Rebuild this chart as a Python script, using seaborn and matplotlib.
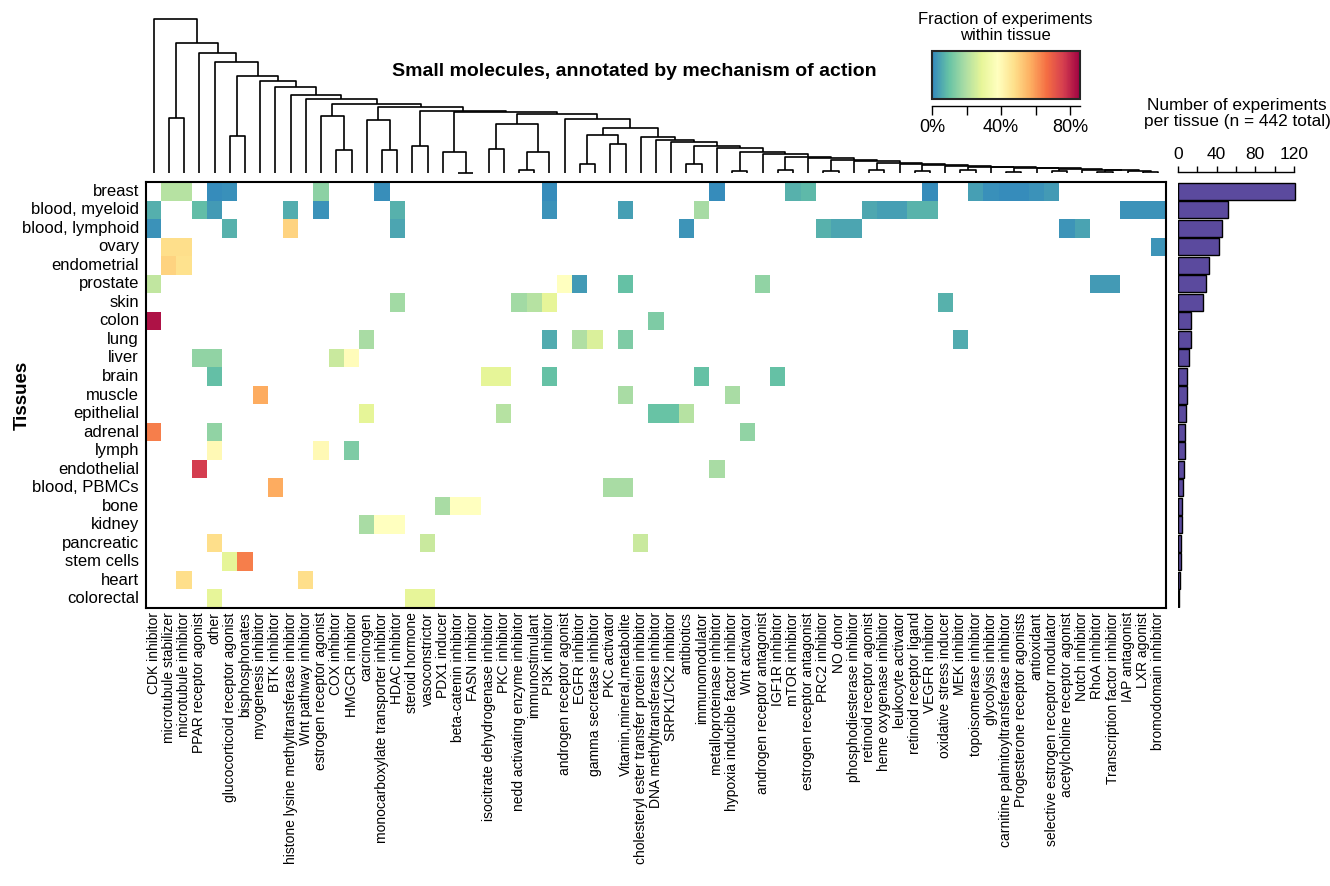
import numpy as np
import pandas as pd
import seaborn as sns
import matplotlib.pyplot as plt
from matplotlib.colors import LinearSegmentedColormap

# ======================= 1. Data ===========================
tissues = ["breast", "blood, myeloid", "blood, lymphoid", "ovary", "endometrial",
           "prostate", "skin", "colon", "lung", "liver", "brain", "muscle",
           "epithelial", "adrenal", "lymph", "endothelial", "blood, PBMCs", "bone",
           "kidney", "pancreatic", "stem cells", "heart", "colorectal"]

mechanisms = [
    "CDK inhibitor", "microtubule stabilizer", "microtubule inhibitor",
    "PPAR receptor agonist", "other", "glucocorticoid receptor agonist",
    "bisphosphonates", "myogenesis inhibitor", "BTK inhibitor",
    "histone lysine methyltransferase inhibitor", "Wnt pathway inhibitor",
    "estrogen receptor agonist", "COX inhibitor", "HMGCR inhibitor", "carcinogen",
    "monocarboxylate transporter inhibitor", "HDAC inhibitor", "steroid hormone",
    "vasoconstrictor", "PDX1 inducer", "beta-catenin inhibitor", "FASN inhibitor",
    "isocitrate dehydrogenase inhibitor", "PKC inhibitor",
    "nedd activating enzyme inhibitor", "immunostimulant", "PI3K inhibitor",
    "androgen receptor agonist", "EGFR inhibitor", "gamma secretase inhibitor",
    "PKC activator", "Vitamin,mineral,metabolite",
    "cholesteryl ester transfer protein inhibitor", "DNA methyltransferase inhibitor",
    "SRPK1/CK2 inhibitor", "antibiotics", "immunomodulator",
    "metalloproteinase inhibitor", "hypoxia inducible factor inhibitor",
    "Wnt activator", "androgen receptor antagonist", "IGF1R inhibitor",
    "mTOR inhibitor", "estrogen receptor antagonist", "PRC2 inhibitor", "NO donor",
    "phosphodiesterase inhibitor", "retinoid receptor agonist",
    "heme oxygenase inhibitor", "leukocyte activator", "retinoid receptor ligand",
    "VEGFR inhibitor", "oxidative stress inducer", "MEK inhibitor",
    "topoisomerase inhibitor", "glycolysis inhibitor",
    "carnitine palmitoyltransferase inhibitor", "Progesterone receptor agonists",
    "antioxidant", "selective estrogen receptor modulator",
    "acetylcholine receptor agonist", "Notch inhibitor", "RhoA inhibitor",
    "Transcription factor inhibitor", "IAP antagonist", "LXR agonist",
    "bromodomain inhibitor"]

n_per_tissue = [121, 52, 45, 42, 32, 29, 26, 13, 13, 11, 9, 9, 8, 7, 7, 6, 5, 4, 4, 3, 3, 2, 1]

# non-zero fractions per tissue, {mechanism index: fraction}
breast = {1: 0.21, 2: 0.21, 4: 0.008, 5: 0.016, 11: 0.15, 15: 0.012, 26: 0.008,
          37: 0.008, 42: 0.068, 43: 0.083, 51: 0.008, 54: 0.038, 55: 0.015,
          56: 0.008, 57: 0.008, 58: 0.018, 59: 0.031}
blood_myeloid = {0: 0.065, 3: 0.09, 4: 0.033, 9: 0.062, 11: 0.018, 16: 0.068,
                 26: 0.018, 31: 0.037, 36: 0.186, 47: 0.053, 48: 0.037, 49: 0.037,
                 50: 0.073, 51: 0.073, 64: 0.018, 65: 0.018, 66: 0.018}
blood_lymphoid = {0: 0.02, 5: 0.068, 9: 0.50, 16: 0.05, 35: 0.022, 44: 0.067,
                  45: 0.05, 46: 0.05, 60: 0.022, 61: 0.044}
ovary = {1: 0.476, 2: 0.476, 66: 0.022}
endometrial = {1: 0.50, 2: 0.47}
prostate = {0: 0.227, 27: 0.38, 28: 0.032, 31: 0.095, 40: 0.156, 62: 0.033, 63: 0.033}
skin = {16: 0.18, 24: 0.18, 25: 0.21, 26: 0.29, 52: 0.068}
colon = {0: 0.83, 33: 0.13}
lung = {14: 0.19, 26: 0.058, 28: 0.20, 29: 0.265, 31: 0.13, 53: 0.06}
liver = {3: 0.155, 4: 0.155, 12: 0.24, 13: 0.39}
brain = {4: 0.093, 22: 0.286, 23: 0.286, 26: 0.095, 36: 0.095, 41: 0.095}
muscle = {7: 0.575, 31: 0.19, 38: 0.19}
epithelial = {14: 0.285, 23: 0.21, 33: 0.10, 34: 0.10, 35: 0.21}
adrenal = {0: 0.64, 4: 0.155, 39: 0.155}
lymph = {4: 0.40, 11: 0.40, 13: 0.13}
endothelial = {3: 0.76, 37: 0.19}
blood_pbmcs = {8: 0.575, 30: 0.19, 31: 0.19}
bone = {19: 0.19, 20: 0.38, 21: 0.38}
kidney = {14: 0.19, 15: 0.38, 16: 0.38}
pancreatic = {4: 0.476, 18: 0.24, 32: 0.24}
stem_cells = {5: 0.285, 6: 0.64}
heart = {2: 0.476, 10: 0.476}
colorectal = {4: 0.29, 17: 0.29, 18: 0.29}

rows = [breast, blood_myeloid, blood_lymphoid, ovary, endometrial, prostate, skin,
        colon, lung, liver, brain, muscle, epithelial, adrenal, lymph, endothelial,
        blood_pbmcs, bone, kidney, pancreatic, stem_cells, heart, colorectal]

# column dendrogram merges: (node, left, right, height); ints are leaf columns
dend_merges = [
    ("root", 0, "A", 1.0), ("A", "p1", "B", 0.846), ("p1", 1, 2, 0.355),
    ("B", 3, "C", 0.781), ("C", 4, "D", 0.723), ("D", "p5", "E", 0.63),
    ("p5", 5, 6, 0.242), ("E", 7, "F", 0.597), ("F", 8, "G", 0.56),
    ("G", 9, "H", 0.506), ("H", 10, "I", 0.478), ("I", "J", "K", 0.448),
    ("J", 11, "p12", 0.372), ("p12", 12, 13, 0.149), ("K", "L", "M", 0.426),
    ("L", 14, "p15", 0.344), ("p15", 15, 16, 0.149), ("M", "p17", "N", 0.405),
    ("p17", 17, 18, 0.175), ("N", "O", "P", 0.398), ("O", 19, "p20", 0.138),
    ("p20", 20, 21, 0.003), ("P", "Q", "R", 0.383), ("Q", "p22", "S", 0.318),
    ("p22", 22, 23, 0.154), ("S", "p24", 26, 0.134), ("p24", 24, 25, 0.02),
    ("R", 27, "T", 0.351), ("T", "U", "V", 0.294), ("U", "p28", "p30", 0.247),
    ("p28", 28, 29, 0.056), ("p30", 30, 31, 0.188), ("V", 32, "W1", 0.236),
    ("W1", 33, "W2", 0.214), ("W2", 34, "W3", 0.203), ("W3", "q35", "W4", 0.177),
    ("q35", 35, 36, 0.06), ("W4", 37, "W5", 0.16), ("W5", "q38", "W6", 0.138),
    ("q38", 38, 39, 0.01), ("W6", 40, "W7", 0.123), ("W7", "q41", "W8", 0.106),
    ("q41", 41, 42, 0.02), ("W8", 43, "W9", 0.095), ("W9", "q44", "W10", 0.084),
    ("q44", 44, 45, 0.01), ("W10", 46, "W11", 0.075), ("W11", "q47", "W12", 0.063),
    ("q47", 47, 48, 0.02), ("W12", 49, "W13", 0.058), ("W13", "q50", "W14", 0.052),
    ("q50", 50, 51, 0.01), ("W14", 52, "W15", 0.047), ("W15", "q53", "W16", 0.041),
    ("q53", 53, 54, 0.02), ("W16", 55, "W17", 0.038), ("W17", "q56", "W18", 0.034),
    ("q56", 56, 57, 0.005), ("W18", 58, "W19", 0.03), ("W19", "q59", "W20", 0.026),
    ("q59", 59, 60, 0.01), ("W20", 61, "W21", 0.022), ("W21", "q62", "W22", 0.018),
    ("q62", 62, 63, 0.008), ("W22", 64, "q65", 0.014), ("q65", 65, 66, 0.006)]

spectral_cols = ["#3288bd", "#66c2a5", "#abdda4", "#e6f598", "#ffffbf",
                 "#fee08b", "#fdae61", "#f46d43", "#d53e4f", "#9e0142"]
vmax = 0.857

# ======================= 2. Build table ====================
mat = np.zeros((len(tissues), len(mechanisms)))
for i, r in enumerate(rows):
    for j, v in r.items():
        mat[i, j] = v
df = pd.DataFrame(mat, index=tissues, columns=mechanisms)

# ======================= 3. Figure =========================
sns.set_style("white")
plt.rcParams['font.family'] = ['Liberation Sans', 'DejaVu Sans']
plt.rcParams['text.color'] = 'black'
plt.rcParams['axes.labelcolor'] = 'black'
plt.rcParams['xtick.color'] = 'black'
plt.rcParams['ytick.color'] = 'black'

W, H = 1330, 886
PT = 72 / 100  # points per pixel
fig = plt.figure(figsize=(W / 100, H / 100), dpi=100)

def px_axes(x0, y0, x1, y1):
    return fig.add_axes([x0 / W, 1 - y1 / H, (x1 - x0) / W, (y1 - y0) / H])

ax_hm = px_axes(146, 182, 1166, 608)
ax_dend = px_axes(146, 19, 1166, 173)
ax_bar = px_axes(1178, 182, 1178 + 130 * 0.967, 608)
cax = px_axes(932, 51, 1080, 99)

cmap = LinearSegmentedColormap.from_list("spec", spectral_cols)
sns.heatmap(df, mask=(df == 0), cmap=cmap, vmin=0, vmax=vmax, cbar=False,
            xticklabels=True, yticklabels=True, ax=ax_hm)
ax_hm.tick_params(length=0)
ax_hm.set_xticklabels(mechanisms, rotation=90, fontsize=10)
ax_hm.set_yticklabels(tissues, rotation=0, fontsize=12)
ax_hm.tick_params(axis='x', pad=3)
ax_hm.tick_params(axis='y', pad=5)
for sp in ax_hm.spines.values():
    sp.set_visible(True)
    sp.set_linewidth(1.5)
    sp.set_color('black')
ax_hm.set_ylabel("Tissues", fontsize=13.5, fontweight='bold')
ax_hm.yaxis.set_label_coords(-0.113, 0.5)
ax_hm.set_xlabel("")

# dendrogram
nodes = {name: (l, r, h) for name, l, r, h in dend_merges}

def draw_node(n):
    if isinstance(n, int):
        return n + 0.5, 0.0
    l, r, h = nodes[n]
    xl, hl = draw_node(l)
    xr, hr = draw_node(r)
    ax_dend.plot([xl, xl, xr, xr], [hl, h, h, hr], color='black', lw=1.2,
                 solid_capstyle='butt', clip_on=False)
    return (xl + xr) / 2, h

draw_node("root")
ax_dend.set_xlim(0, len(mechanisms))
ax_dend.set_ylim(0, 1)
ax_dend.axis('off')

# colorbar
cb = fig.colorbar(ax_hm.collections[0], cax=cax, orientation='horizontal')
cb.outline.set_linewidth(1.5)
cb.set_ticks([0, 0.2, 0.4, 0.6, 0.8])
cb.set_ticklabels(['0%', '', '40%', '', '80%'])
cax.tick_params(direction='out', length=9 * PT, width=1, labelsize=13, pad=3)
cax.spines['bottom'].set_visible(True)
cax.spines['bottom'].set_position(('outward', 7 * PT))
cax.spines['bottom'].set_linewidth(1)
cax.spines['bottom'].set_color('black')
fig.text(1005 / W, 1 - 12 / H, "Fraction of experiments\nwithin tissue",
         ha='center', va='top', fontsize=12, linespacing=1.05)

# bar chart of experiments per tissue
sns.barplot(x=n_per_tissue, y=tissues, orient='h', color='#5b4a9e',
            edgecolor='black', linewidth=1, width=0.92, saturation=1, ax=ax_bar)
ax_bar.set_xlim(0, 130)
ax_bar.set_ylim(len(tissues) - 0.5, -0.5)
ax_bar.set_yticks([])
ax_bar.set_ylabel("")
for s in ['left', 'right', 'bottom']:
    ax_bar.spines[s].set_visible(False)
ax_bar.spines['top'].set_visible(True)
ax_bar.spines['top'].set_position(('outward', 10 * PT))
ax_bar.spines['top'].set_bounds(0, 120)
ax_bar.spines['top'].set_linewidth(1)
ax_bar.spines['top'].set_color('black')
ax_bar.xaxis.tick_top()
ax_bar.set_xticks([0, 20, 40, 60, 80, 100, 120])
ax_bar.set_xticklabels(['0', '', '40', '', '80', '', '120'])
ax_bar.tick_params(axis='x', direction='out', length=6 * PT, width=1, labelsize=12.5, pad=3)
fig.text(1237 / W, 1 - 98 / H, "Number of experiments\nper tissue (n = 442 total)",
         ha='center', va='top', fontsize=12.4, linespacing=1.05)

fig.text(634 / W, 1 - 72 / H, "Small molecules, annotated by mechanism of action",
         ha='center', va='center', fontsize=14, fontweight='bold')

fig.savefig("out.png", dpi=100, facecolor='white')
